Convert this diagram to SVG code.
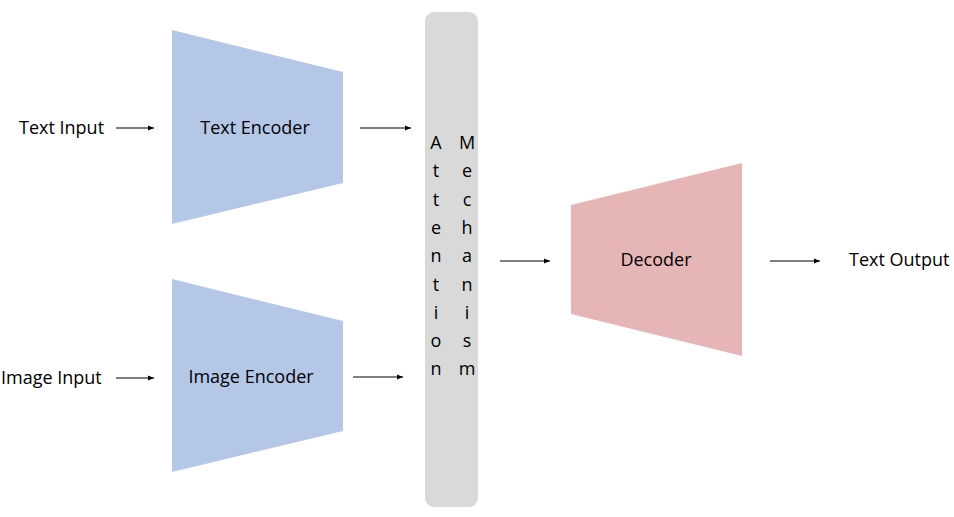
<svg xmlns="http://www.w3.org/2000/svg" width="954" height="517" viewBox="0 0 954 517">
<defs>
<style>
text{font-family:"Open Sans","Liberation Sans",sans-serif;font-size:18px;fill:#000}
.enc{fill:#b4c7e7}
.dec{fill:#e6b5b6}
.att{fill:#d9d9d9}
.c line{stroke:#000;stroke-width:1.2;marker-end:url(#ah)}
.mid{text-anchor:middle}
</style>
<marker id="ah" viewBox="0 0 10 10" refX="10" refY="5" markerWidth="6" markerHeight="6" markerUnits="userSpaceOnUse" orient="auto">
<path d="M0,1 L10,5 L0,9 Z" fill="#000"/>
</marker>
</defs>
<rect width="954" height="517" fill="#fff"/>
<g id="text-input"><text x="19" y="134">Text Input</text></g>
<g id="image-input"><text x="1" y="384">Image Input</text></g>
<g id="text-encoder"><polygon class="enc" points="172,30 343,72 343,183 172,224"/><text class="mid" x="255" y="134">Text Encoder</text></g>
<g id="image-encoder"><polygon class="enc" points="172,279 343,321 343,431 172,472"/><text class="mid" x="251" y="383">Image Encoder</text></g>
<g id="attention"><rect class="att" x="425" y="12" width="53" height="495" rx="9"/>
<text class="mid" x="436" y="149">A</text><text class="mid" x="436" y="177">t</text><text class="mid" x="436" y="206">t</text><text class="mid" x="436" y="234">e</text><text class="mid" x="436" y="262">n</text><text class="mid" x="436" y="291">t</text><text class="mid" x="436" y="319">i</text><text class="mid" x="436" y="347">o</text><text class="mid" x="436" y="375">n</text>
<text class="mid" x="467" y="149">M</text><text class="mid" x="467" y="177">e</text><text class="mid" x="467" y="206">c</text><text class="mid" x="467" y="234">h</text><text class="mid" x="467" y="262">a</text><text class="mid" x="467" y="291">n</text><text class="mid" x="467" y="319">i</text><text class="mid" x="467" y="347">s</text><text class="mid" x="467" y="375">m</text>
</g>
<g id="decoder"><polygon class="dec" points="571,205 742,163 742,356 571,314"/><text class="mid" x="656" y="266">Decoder</text></g>
<g id="text-output"><text x="849" y="266">Text Output</text></g>
<g class="c" id="connectors">
<line x1="116" y1="128" x2="154" y2="128"/>
<line x1="360" y1="128" x2="411" y2="128"/>
<line x1="116" y1="378" x2="154" y2="378"/>
<line x1="353" y1="377" x2="403" y2="377"/>
<line x1="500" y1="261" x2="550" y2="261"/>
<line x1="770" y1="261" x2="820" y2="261"/>
</g>
</svg>
